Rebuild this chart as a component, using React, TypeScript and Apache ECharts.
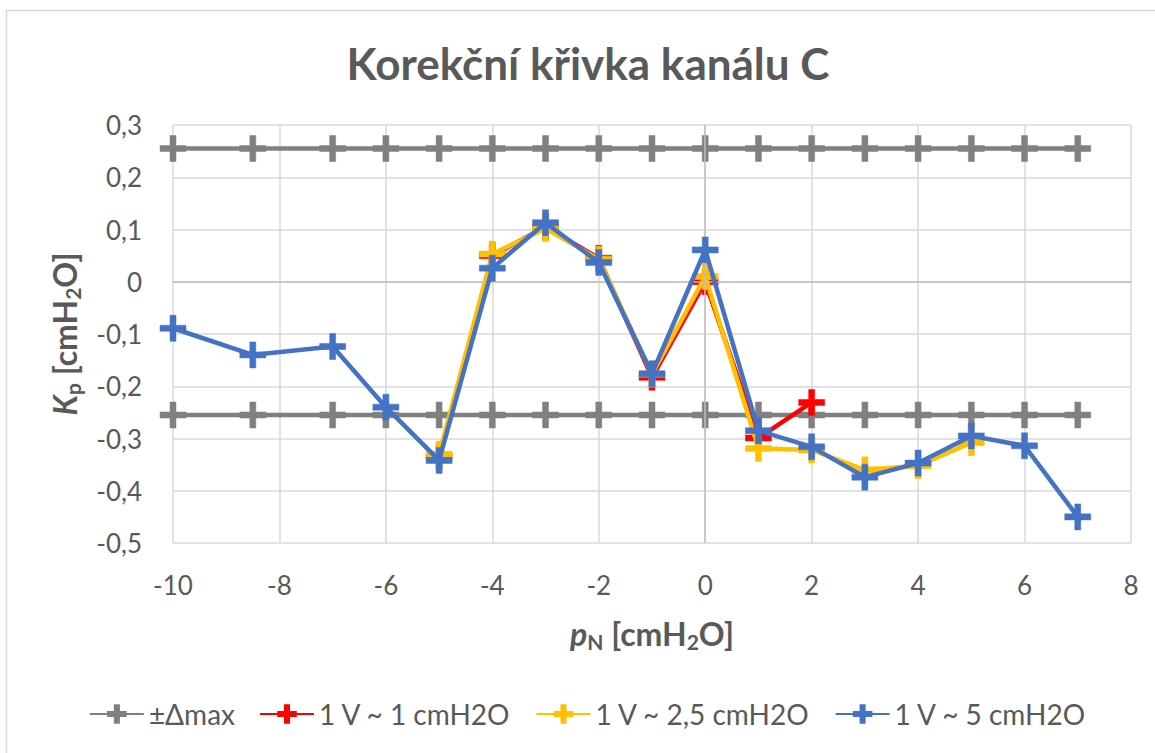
import React, { useEffect, useRef } from "react";
import * as echarts from "echarts";

const deltaX = [-10, -8.5, -7, -6, -5, -4, -3, -2, -1, 0, 1, 2, 3, 4, 5, 6, 7];
const deltaMax = 0.255;

const redX = [-5, -4, -3, -2, -1, 0, 1, 2];
const redY = [-0.335, 0.05, 0.105, 0.045, -0.183, 0.0, -0.299, -0.231];

const yellowX = [-5, -4, -3, -2, -1, 0, 1, 2, 3, 4, 5];
const yellowY = [-0.33, 0.053, 0.102, 0.043, -0.177, 0.01, -0.319, -0.322, -0.36, -0.352, -0.308];

const blueX = [-10, -8.5, -7, -6, -5, -4, -3, -2, -1, 0, 1, 2, 3, 4, 5, 6, 7];
const blueY = [-0.089, -0.14, -0.124, -0.24, -0.342, 0.026, 0.113, 0.037, -0.176, 0.061, -0.285, -0.316, -0.374, -0.347, -0.295, -0.314, -0.45];

const seriesNames = ["±Δmax", "1 V ~ 1 cmH2O", "1 V ~ 2,5 cmH2O", "1 V ~ 5 cmH2O"];
const colors = ["#808080", "#FF0000", "#FFC000", "#4472C4"];

const PLUS = "path://M10,0h6v10h10v6h-10v10h-6v-10h-10v-6h10z";
const FONT = "Lato";
const TXT = "#595959";

const pairs = (xs: number[], ys: number[]) => xs.map((x, i) => [x, ys[i]]);

export default function App() {
  const ref = useRef<HTMLDivElement>(null);
  useEffect(() => {
    if (!ref.current) return;
    const chart = echarts.init(ref.current, null, { renderer: "svg" });
    const lineSeries = (name: string, color: string, data: number[][], z = 2) => ({
      type: "line",
      name,
      data,
      z,
      symbol: PLUS,
      symbolSize: 26,
      showSymbol: true,
      itemStyle: { color, borderColor: color, borderWidth: 0.5, opacity: 1 },
      lineStyle: { color, width: 4.5 },
      emphasis: { disabled: true },
    });
    const nameRich = {
      i: { fontFamily: FONT, fontSize: 32, fontWeight: "bold", fontStyle: "italic", color: TXT },
      b: { fontFamily: FONT, fontSize: 32, fontWeight: "bold", color: TXT },
      sub: { fontFamily: FONT, fontSize: 21, fontWeight: "bold", color: TXT, verticalAlign: "bottom", padding: [16, 0, 0, 0] },
    };
    chart.setOption({
      animation: false,
      textStyle: { fontFamily: FONT, color: TXT },
      title: {
        text: "Korekční křivka kanálu C",
        left: "center",
        top: 36,
        textStyle: { fontFamily: FONT, fontSize: 44, fontWeight: "bold", color: TXT },
      },
      graphic: [
        {
          type: "rect",
          shape: { x: 6.5, y: 10.5, width: 1300, height: 900 },
          style: { fill: "none", stroke: "#D9D9D9", lineWidth: 1.5 },
          silent: true,
        },
      ],
      legend: {
        bottom: 20,
        left: "center",
        itemWidth: 54,
        itemHeight: 22,
        itemGap: 24,
        data: seriesNames,
        textStyle: { fontFamily: FONT, fontSize: 28, color: TXT },
      },
      grid: { left: 173, right: 1176 - 1131, top: 125, bottom: 753 - 543 },
      xAxis: {
        type: "value",
        min: -10,
        max: 8,
        interval: 2,
        name: "{i|p}{sub|N}{b| [cmH}{sub|2}{b|O]}",
        nameLocation: "middle",
        nameGap: 72,
        nameTextStyle: { rich: nameRich },
        axisLine: { show: false },
        axisTick: { show: false },
        axisLabel: { fontFamily: FONT, fontSize: 26, color: TXT, margin: 29, formatter: (v: number) => String(v) },
        splitLine: { show: true, lineStyle: { color: "#D9D9D9", width: 1.5 } },
      },
      yAxis: {
        type: "value",
        min: -0.5,
        max: 0.3,
        interval: 0.1,
        name: "{i|K}{sub|p}{b| [cmH}{sub|2}{b|O]}",
        nameLocation: "middle",
        nameRotate: 90,
        nameGap: 90,
        nameTextStyle: { rich: nameRich },
        axisLine: { show: false },
        axisTick: { show: false },
        axisLabel: {
          fontFamily: FONT,
          fontSize: 26,
          color: TXT,
          margin: 31,
          formatter: (v: number) => (Math.abs(v) < 1e-9 ? "0" : v.toFixed(1).replace(".", ",")),
        },
        splitLine: { show: true, lineStyle: { color: "#D9D9D9", width: 1.5 } },
      },
      series: [
        {
          type: "line",
          name: "axes",
          data: [],
          z: 1,
          silent: true,
          markLine: {
            silent: true,
            symbol: "none",
            label: { show: false },
            lineStyle: { color: "#BFBFBF", width: 1.5, type: "solid" },
            data: [{ xAxis: 0 }, { yAxis: 0 }],
          },
        },
        lineSeries(seriesNames[0], colors[0], deltaX.map((x) => [x, deltaMax])),
        lineSeries(seriesNames[0], colors[0], deltaX.map((x) => [x, -deltaMax])),
        lineSeries(seriesNames[1], colors[1], pairs(redX, redY), 3),
        lineSeries(seriesNames[2], colors[2], pairs(yellowX, yellowY), 4),
        lineSeries(seriesNames[3], colors[3], pairs(blueX, blueY), 5),
      ],
    });
    return () => chart.dispose();
  }, []);
  return (
    <div style={{ position: "fixed", left: 0, top: 0, width: 1155, height: 753, overflow: "hidden", background: "#fff" }}>
      <div ref={ref} style={{ width: 1176, height: 753 }} />
    </div>
  );
}
